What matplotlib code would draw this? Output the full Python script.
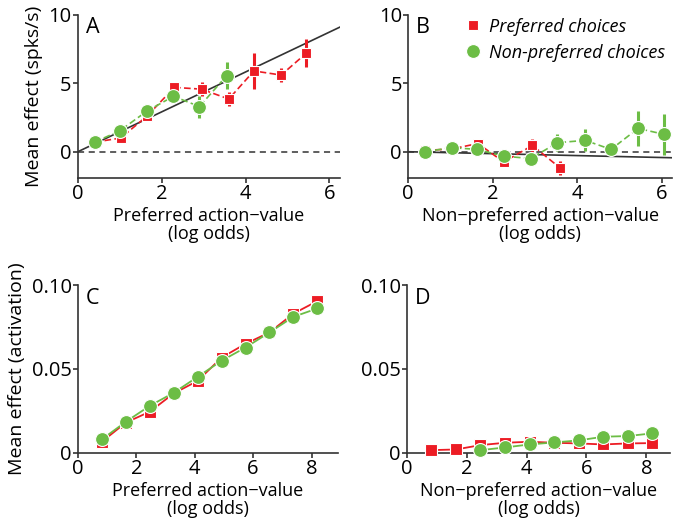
import numpy as np
import matplotlib
matplotlib.use('Agg')
import matplotlib.pyplot as plt

# Panel A: preferred action-value, spikes/s
a_pref_x = [0.4, 1.02, 1.65, 2.3, 2.95, 3.6, 4.2, 4.85, 5.45]
a_pref_y = [0.7, 1.0, 2.6, 4.7, 4.57, 3.85, 5.9, 5.6, 7.2]
a_pref_e = [0.2, 0.2, 0.2, 0.2, 0.5, 0.5, 1.3, 0.5, 1.0]
a_non_x = [0.4, 1.0, 1.65, 2.28, 2.9, 3.55]
a_non_y = [0.7, 1.53, 2.97, 4.05, 3.3, 5.55]
a_non_e = [0.2, 0.2, 0.2, 0.2, 0.8, 1.0]
a_fit_x = [0.0, 6.25]
a_fit_y = [0.0, 9.1]

# Panel B: non-preferred action-value, spikes/s
b_pref_x = [0.4, 1.03, 1.65, 2.26, 2.94, 3.6]
b_pref_y = [0.1, 0.2, 0.6, -0.75, 0.46, -1.2]
b_pref_e = [0.2, 0.2, 0.2, 0.2, 0.5, 0.5]
b_non_x = [0.4, 1.03, 1.63, 2.26, 2.9, 3.53, 4.19, 4.8, 5.44, 6.06]
b_non_y = [0.0, 0.3, 0.17, -0.32, -0.5, 0.66, 0.83, 0.17, 1.7, 1.27]
b_non_e = [0.2, 0.2, 0.2, 0.2, 0.2, 0.6, 0.8, 0.5, 1.3, 1.5]
b_fit_x = [0.0, 6.25]
b_fit_y = [0.0, -0.44]

# Panel C / D: model activation
cd_x = [0.82, 1.64, 2.46, 3.28, 4.1, 4.92, 5.74, 6.56, 7.38, 8.2]
c_pref_y = [0.0066, 0.018, 0.0245, 0.0354, 0.0429, 0.0568, 0.065, 0.0718, 0.083, 0.0905]
c_non_y = [0.008, 0.0185, 0.028, 0.0358, 0.0453, 0.0549, 0.0628, 0.0718, 0.0811, 0.0861]
d_pref_y = [0.0016, 0.002, 0.0046, 0.006, 0.0066, 0.006, 0.0056, 0.005, 0.0056, 0.0058]
d_non_x = [2.46, 3.28, 4.1, 4.92, 5.74, 6.56, 7.38, 8.2]
d_non_y = [0.0016, 0.0032, 0.005, 0.0062, 0.0074, 0.0096, 0.01, 0.0116]

red = '#ec1c24'
green = '#6cbd45'
dark = '#333333'

plt.rcParams['font.family'] = ['Open Sans', 'DejaVu Sans']
tsize = 14.5   # tick labels
xsize = 13     # x axis titles
ysize = 14     # y axis titles

fig = plt.figure(figsize=(6.77, 5.29), dpi=100)
axA = fig.add_axes([0.115, 0.664, 0.387, 0.308])
axB = fig.add_axes([0.603, 0.664, 0.390, 0.308])
axC = fig.add_axes([0.115, 0.144, 0.384, 0.317])
axD = fig.add_axes([0.601, 0.144, 0.389, 0.317])


def style(ax, letter):
    for s in ['top', 'right']:
        ax.spines[s].set_visible(False)
    for s in ['left', 'bottom']:
        ax.spines[s].set_color(dark)
        ax.spines[s].set_linewidth(1.2)
    ax.tick_params(direction='out', length=3.5, width=1.2, color=dark,
                   labelsize=tsize, pad=1)
    ax.text(0.03, 0.985, letter, transform=ax.transAxes, fontsize=15.5,
            va='top', ha='left')


def errplot(ax, x, y, e, color, marker, ms, label=None):
    ax.errorbar(x, y, yerr=e, color=color, marker=marker, ms=ms, mec='white',
                mew=0.8, ls=(0, (4, 2)), lw=1.2, elinewidth=2.2, capsize=0,
                label=label, zorder=3)


# A
axA.plot(a_fit_x, a_fit_y, color=dark, lw=1.2, zorder=2)
axA.axhline(0, color=dark, lw=1.1, ls=(0, (4, 3)), zorder=1)
errplot(axA, a_pref_x, a_pref_y, a_pref_e, red, 's', 7.5)
errplot(axA, a_non_x, a_non_y, a_non_e, green, 'o', 10)
axA.set_xlim(0, 6.25)
axA.set_ylim(-1.9, 10)
axA.set_xticks([0, 2, 4, 6])
axA.set_yticks([0, 5, 10])
axA.set_ylabel('Mean effect (spks/s)', fontsize=ysize, labelpad=4)
axA.set_xlabel('Preferred action\u2212value\n(log odds)', fontsize=xsize,
               labelpad=2, linespacing=1.0)
style(axA, 'A')

# B
axB.plot(b_fit_x, b_fit_y, color=dark, lw=1.2, zorder=2)
axB.axhline(0, color=dark, lw=1.1, ls=(0, (4, 3)), zorder=1)
errplot(axB, b_pref_x, b_pref_y, b_pref_e, red, 's', 7.5, 'Preferred choices')
errplot(axB, b_non_x, b_non_y, b_non_e, green, 'o', 10, 'Non-preferred choices')
axB.set_xlim(0, 6.25)
axB.set_ylim(-1.9, 10)
axB.set_xticks([0, 2, 4, 6])
axB.set_yticks([0, 5, 10])
axB.set_xlabel('Non\u2212preferred action\u2212value\n(log odds)', fontsize=xsize,
               labelpad=2, linespacing=1.0)
style(axB, 'B')
h, l = axB.get_legend_handles_labels()
h = [hh[0] for hh in h]
leg = axB.legend(h, l, loc='upper left', bbox_to_anchor=(0.17, 1.06),
                 frameon=False, handlelength=0.8, handletextpad=0.5,
                 borderpad=0.2, labelspacing=0.45,
                 prop={'size': 13, 'style': 'italic'})
for lh in leg.legend_handles:
    lh.set_linestyle('none')

# C
axC.plot(cd_x, c_pref_y, color=red, marker='s', ms=8, mec='white', mew=0.8,
         lw=1.3, zorder=3)
axC.plot(cd_x, c_non_y, color=green, marker='o', ms=10, mec='white', mew=0.8,
         lw=1.3, zorder=4)
axC.set_xlim(0, 8.9)
axC.set_ylim(0, 0.10)
axC.set_xticks([0, 2, 4, 6, 8])
axC.set_yticks([0, 0.05, 0.10])
axC.set_yticklabels(['0', '0.05', '0.10'])
axC.set_ylabel('Mean effect (activation)', fontsize=ysize, labelpad=4)
axC.set_xlabel('Preferred action\u2212value\n(log odds)', fontsize=xsize,
               labelpad=2, linespacing=1.0)
style(axC, 'C')

# D
axD.plot(cd_x, d_pref_y, color=red, marker='s', ms=8, mec='white', mew=0.8,
         lw=1.3, zorder=3, clip_on=False)
axD.plot(d_non_x, d_non_y, color=green, marker='o', ms=10, mec='white', mew=0.8,
         lw=1.3, zorder=4, clip_on=False)
axD.set_xlim(0, 8.8)
axD.set_ylim(0, 0.10)
axD.set_xticks([0, 2, 4, 6, 8])
axD.set_yticks([0, 0.05, 0.10])
axD.set_yticklabels(['0', '0.05', '0.10'])
axD.set_xlabel('Non\u2212preferred action\u2212value\n(log odds)', fontsize=xsize,
               labelpad=2, linespacing=1.0)
style(axD, 'D')

plt.savefig('out.png', dpi=100)
plt.close()
